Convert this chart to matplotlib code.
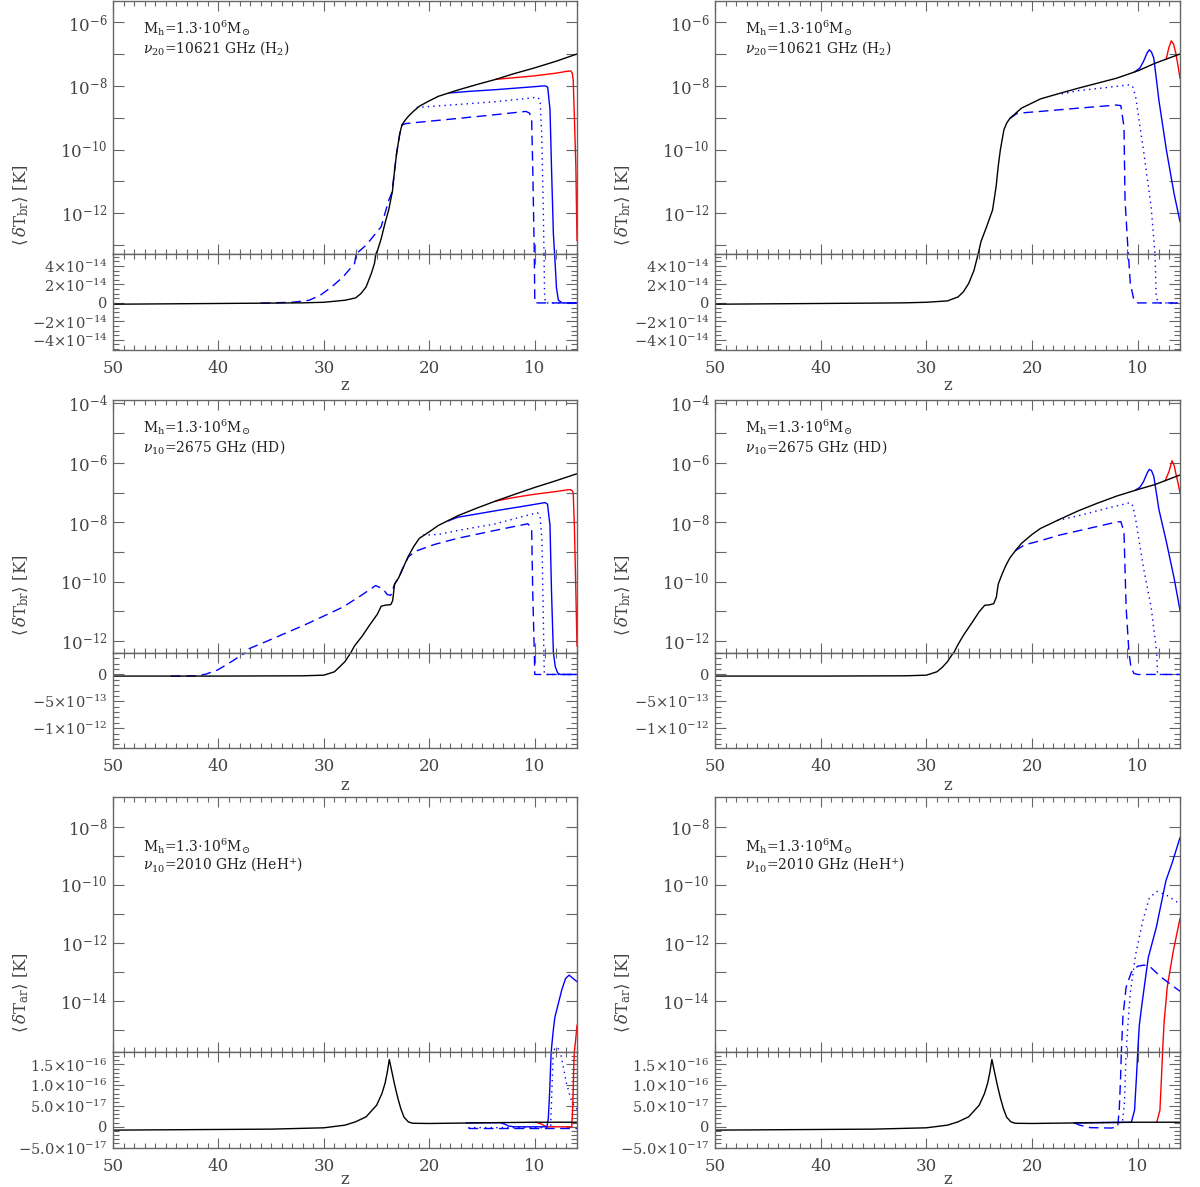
import numpy as np
import matplotlib.pyplot as plt
from matplotlib.ticker import FixedLocator, FixedFormatter, MultipleLocator, NullFormatter

plt.rcParams['font.family'] = ['DejaVu Serif']
plt.rcParams['mathtext.fontset'] = 'dejavuserif'

# ---------------------------------------------------------------
# curves: (z, <dT> in K)
# ---------------------------------------------------------------

# H2, left
h2_l_black = [(50, -1.4e-15), (45, -1.0e-15), (40, -6e-16), (35, -2e-16), (32, 1e-16),
              (30, 7e-16), (28, 2.9e-15), (27, 5.4e-15), (26.5, 1.0e-14), (26, 1.73e-14),
              (25.5, 3.2e-14), (25.2, 4.3e-14), (25.05, 5.5e-14), (24.9, 7.1e-14),
              (24.57, 1.6e-13), (24.2, 5e-13), (23.85, 1.3e-12), (23.5, 5e-12), (23.3, 2.2e-11),
              (23.1, 7.9e-11), (22.8, 3.2e-10), (22.6, 6.0e-10), (22.3, 8.3e-10), (22.0, 1.1e-9),
              (21.5, 1.6e-9), (20.95, 2.3e-9), (20.0, 3.4e-9), (19.15, 4.7e-9), (17.3, 7.4e-9),
              (15.5, 1.1e-8), (13.7, 1.6e-8), (12.0, 2.4e-8), (10.1, 3.6e-8), (8.0, 5.9e-8),
              (6.0, 1.0e-7)]
h2_l_red = [(13.7, 1.6e-8), (12.0, 1.8e-8), (10.1, 2.05e-8), (8.0, 2.5e-8), (7.0, 2.85e-8),
            (6.6, 2.95e-8), (6.45, 2.5e-8), (6.36, 1.55e-8), (6.25, 1.1e-9), (6.11, 3.2e-11),
            (6.0, 1.4e-13)]
h2_l_solid = [(18.1, 6.0e-9), (16.0, 6.8e-9), (13.7, 7.6e-9), (11.0, 8.9e-9), (9.1, 1.0e-8),
              (8.95, 9.8e-9), (8.78, 9.1e-9), (8.56, 1.8e-9), (8.42, 2.9e-11), (8.24, 2.3e-13),
              (8.13, 5.5e-14), (7.95, 1.7e-14), (7.77, 3e-15), (7.4, 0), (6.0, 0)]
h2_l_dotted = [(21.2, 2.1e-9), (19.5, 2.3e-9), (16.0, 2.8e-9), (13.7, 3.2e-9), (11.5, 3.8e-9),
               (9.75, 4.4e-9), (9.5, 3.6e-9), (9.35, 3.2e-10), (9.21, 2.6e-12), (9.13, 5.5e-14),
               (9.08, 1e-14), (9.0, 0), (6.0, 0)]
h2_l_dashed = [(36, -2e-16), (33, 7e-16), (31.4, 2.9e-15), (30.35, 8.3e-15), (29.3, 1.7e-14),
               (28.2, 2.8e-14), (27.1, 4.25e-14), (26.9, 5.5e-14), (26.0, 1.0e-13),
               (24.57, 3.8e-13), (23.85, 2.6e-12), (23.55, 4.5e-12), (23.3, 2.2e-11),
               (23.1, 7.9e-11), (22.8, 3.2e-10), (22.6, 5.8e-10), (22.3, 6.5e-10),
               (21.8, 6.8e-10), (17.3, 9.5e-10), (13.7, 1.25e-9), (10.84, 1.58e-9),
               (10.5, 1.4e-9), (10.3, 8.5e-10), (10.2, 3e-11), (10.05, 5.5e-14), (10.0, 0),
               (6.0, 0)]

# H2, right
h2_r_black = [(50, -1.4e-15), (45, -1.0e-15), (40, -6e-16), (35, -2e-16), (32, 1e-16),
              (30, 7e-16), (28, 2.2e-15), (27, 6.5e-15), (26.5, 1.2e-14), (26, 2.1e-14),
              (25.5, 3.5e-14), (25.1, 5.3e-14), (24.83, 1.3e-13), (24.3, 3.8e-13),
              (23.74, 1.26e-12), (23.4, 6.9e-12), (23.2, 3e-11), (23.0, 9.8e-11),
              (22.66, 4.2e-10), (22.4, 6.8e-10), (22.1, 9.5e-10), (21.0, 2.0e-9), (19.2, 3.9e-9),
              (17.4, 5.8e-9), (15.6, 8.5e-9), (12.0, 1.74e-8), (10.0, 2.95e-8), (8.37, 5.1e-8),
              (6.0, 1.0e-7)]
h2_r_red = [(7.3, 7.1e-8), (7.05, 1.6e-7), (6.82, 2.6e-7), (6.6, 2.0e-7), (6.4, 1.07e-7),
            (6.2, 4.5e-8), (6.0, 1.74e-8)]
h2_r_solid = [(10.3, 2.75e-8), (9.8, 3.6e-8), (9.46, 5.8e-8), (9.1, 1.1e-7), (8.9, 1.35e-7),
              (8.7, 1.15e-7), (8.48, 7.4e-8), (8.2, 1.3e-8), (8.0, 3.6e-9), (7.29, 9.8e-11),
              (6.57, 4.3e-12), (6.0, 5.5e-13)]
h2_r_dotted = [(17.2, 5.6e-9), (15.6, 7.1e-9), (13.0, 8.8e-9), (10.9, 1.07e-8), (10.5, 1.0e-8),
               (10.2, 4.6e-9), (9.46, 9.8e-11), (8.73, 1.6e-12), (8.37, 5.5e-14), (8.26, 1e-14),
               (8.1, 7e-16), (7.9, 0), (6.0, 0)]
h2_r_dashed = [(22.1, 9.5e-10), (21.4, 1.38e-9), (19.2, 1.58e-9), (15.6, 2.0e-9), (12.0, 2.5e-9),
               (11.6, 2.4e-9), (11.3, 5.2e-10), (11.2, 2.6e-12), (10.9, 5.5e-14),
               (10.7, 2.1e-14), (10.36, 2.9e-15), (10.0, 0), (6.0, 0)]

# HD, left
hd_l_black = [(50, -3e-14), (40, -3e-14), (32, -2.5e-14), (30, -1.3e-14), (29, 5e-14),
              (28.5, 1.45e-13), (28, 2.4e-13), (27.6, 3.6e-13), (27.45, 4.1e-13),
              (27.1, 6.9e-13), (26.37, 1.48e-12), (25.65, 3.55e-12), (24.93, 8.1e-12),
              (24.57, 1.5e-11), (24.2, 1.62e-11), (23.66, 1.7e-11), (23.48, 2.3e-11),
              (23.3, 8.3e-11), (22.9, 1.38e-10), (22.5, 2.9e-10), (22.0, 7.1e-10), (21.5, 1.5e-9),
              (20.95, 2.9e-9), (20.0, 4.8e-9), (19.15, 7.8e-9), (17.3, 1.66e-8), (15.5, 3.0e-8),
              (13.7, 5.2e-8), (12.0, 8.5e-8), (10.1, 1.45e-7), (8.0, 2.5e-7), (6.0, 4.3e-7)]
hd_l_red = [(13.7, 5.2e-8), (12.0, 6.8e-8), (10.1, 8.7e-8), (8.0, 1.08e-7), (7.0, 1.22e-7),
            (6.65, 1.26e-7), (6.45, 1.15e-7), (6.36, 1.0e-7), (6.25, 7.9e-9), (6.11, 5e-11),
            (6.0, 6.9e-13)]
hd_l_solid = [(18.2, 1.12e-8), (17.3, 1.48e-8), (15.5, 1.9e-8), (13.7, 2.45e-8), (11.0, 3.5e-8),
              (9.03, 4.6e-8), (8.8, 4.1e-8), (8.56, 7.8e-9), (8.42, 5e-11), (8.24, 4.1e-13),
              (8.06, 1.45e-13), (7.84, 3e-14), (7.6, 0), (6.0, 0)]
hd_l_dotted = [(20.6, 3.7e-9), (19.15, 3.9e-9), (17.3, 5.3e-9), (13.7, 8.9e-9), (11.5, 1.45e-8),
               (9.75, 2.1e-8), (9.5, 1.66e-8), (9.32, 2.2e-9), (9.21, 1.4e-11), (9.14, 4.1e-13),
               (9.1, 0), (6.0, 0)]
hd_l_dashed = [(44.5, -3e-14), (42.0, -2.5e-14), (41.2, 6e-15), (40.1, 8.2e-14), (39.0, 2.1e-13),
               (37.9, 3.5e-13), (37.4, 4.1e-13), (37.2, 5.4e-13), (35.4, 1e-12),
               (31.8, 3.55e-12), (28.2, 1.4e-11), (26.5, 3.4e-11), (25.1, 7.4e-11),
               (24.4, 5.8e-11), (24.0, 3.7e-11), (23.66, 3.5e-11), (23.4, 6.5e-11),
               (23.3, 8.3e-11), (22.9, 1.38e-10), (22.5, 2.9e-10), (22.0, 6.8e-10),
               (21.35, 1.05e-9), (19.5, 1.8e-9), (17.3, 2.9e-9), (13.7, 5.4e-9), (10.66, 8.9e-9),
               (10.3, 6.2e-9), (10.2, 5e-11), (10.05, 4.1e-13), (10.0, 0), (6.0, 0)]

# HD, right
hd_r_black = [(50, -3e-14), (40, -3e-14), (32, -2.5e-14), (30, -1.3e-14), (29, 5e-14),
              (28.5, 1.32e-13), (28, 2.4e-13), (27.6, 3.6e-13), (27.4, 4.1e-13),
              (27.0, 7.8e-13), (26.45, 1.66e-12), (25.7, 4.1e-12), (25.0, 9.8e-12),
              (24.47, 1.62e-11), (24.1, 1.65e-11), (23.63, 1.82e-11), (23.38, 3.0e-11),
              (23.2, 8.3e-11), (22.84, 1.78e-10), (22.5, 3.4e-10), (22.1, 6.3e-10),
              (21.5, 1.2e-9), (21.0, 1.95e-9), (20.0, 3.9e-9), (19.2, 6.2e-9), (17.4, 1.25e-8),
              (15.6, 2.45e-8), (13.8, 4.4e-8), (12.0, 7.6e-8), (10.0, 1.26e-7), (8.37, 1.86e-7),
              (6.0, 3.9e-7)]
hd_r_red = [(7.4, 2.5e-7), (7.05, 5e-7), (6.75, 1.17e-6), (6.55, 8e-7), (6.4, 4.5e-7),
            (6.2, 2.2e-7), (6.0, 9.8e-8)]
hd_r_solid = [(10.2, 1.22e-7), (9.8, 1.5e-7), (9.46, 2.3e-7), (9.1, 4.6e-7), (8.9, 6.0e-7),
              (8.7, 5.5e-7), (8.48, 3.5e-7), (8.2, 8e-8), (8.0, 2.75e-8), (7.29, 2.2e-9),
              (6.57, 1.38e-10), (6.0, 1.1e-11)]
hd_r_dotted = [(17.6, 1.15e-8), (15.6, 1.66e-8), (13.0, 2.9e-8), (10.7, 4.6e-8), (10.45, 3.5e-8),
               (10.2, 1.29e-8), (9.46, 3e-10), (8.73, 1.4e-11), (8.2, 4.1e-13), (8.13, 0),
               (6.0, 0)]
hd_r_dashed = [(21.6, 1.1e-9), (20.7, 1.74e-9), (19.2, 2.4e-9), (17.4, 3.7e-9), (15.0, 5.8e-9),
               (12.0, 1.02e-8), (11.6, 1.05e-8), (11.3, 4.8e-9), (11.1, 1.4e-11),
               (10.83, 4.1e-13), (10.65, 1.45e-13), (10.36, 2e-14), (10.0, 0), (6.0, 0)]

# HeH+, black curve (same in both columns)
hehp_black = [(50, -8e-18), (40, -6.4e-18), (35, -5.6e-18), (30, -2.4e-18), (28, 4e-18),
              (27, 1.2e-17), (26, 2.4e-17), (25, 5.2e-17), (24.5, 8e-17), (24.2, 1.05e-16),
              (24.0, 1.3e-16), (23.8, 1.62e-16), (23.6, 1.38e-16), (23.3, 1.02e-16),
              (23.0, 7e-17), (22.7, 4.3e-17), (22.4, 2.3e-17), (22.0, 1.2e-17), (21.6, 8.5e-18),
              (20.0, 8e-18), (15.0, 9.6e-18), (10.0, 1.1e-17), (6.0, 1.1e-17)]

# HeH+, left
hehp_l_red = [(9.9, 1.1e-17), (9.4, 7e-18), (8.9, 0), (6.5, 0), (6.4, 5e-17), (6.3, 1.5e-16),
              (6.25, 1.8e-16), (6.12, 5e-16), (6.0, 1.5e-15)]
hehp_l_solid = [(16.5, 9.4e-18), (13.3, 1.0e-17), (12.9, 7e-18), (12.5, 2e-18), (12.0, 0),
                (8.85, 0), (8.72, 2e-17), (8.6, 8e-17), (8.45, 1.8e-16), (8.25, 1e-15),
                (8.1, 2.8e-15), (7.85, 6.4e-15), (7.45, 2.4e-14), (7.09, 6.0e-14),
                (6.75, 7.9e-14), (6.4, 6.2e-14), (6.0, 4.7e-14)]
hehp_l_dotted = [(16.3, -2e-18), (9.0, -2e-18), (8.5, 0), (8.38, 9e-17), (8.25, 1.8e-16),
                 (8.05, 2.6e-16), (7.85, 2.5e-16), (7.5, 1.7e-16), (7.0, 1.05e-16),
                 (6.5, 6e-17), (6.0, 4.2e-17)]
hehp_l_dashed = [(16.3, -2e-18), (6.0, -2e-18)]

# HeH+, right
hehp_r_red = [(8.2, 1.1e-17), (7.9, 4e-17), (7.75, 1.2e-16), (7.65, 1.8e-16), (7.5, 2e-15),
              (7.2, 3.2e-14), (6.65, 5e-13), (6.0, 7e-12)]
hehp_r_solid = [(16.0, 9.6e-18), (10.6, 1.1e-17), (10.3, 4e-17), (10.12, 1.2e-16),
                (10.0, 1.8e-16), (9.85, 1.5e-15), (9.6, 8e-15), (9.0, 3.2e-13), (8.24, 3.5e-12),
                (7.33, 1.4e-10), (6.75, 5.6e-10), (6.0, 4.2e-9)]
hehp_r_dotted = [(16.0, 9.6e-18), (11.45, 1.05e-17), (11.25, 6e-17), (11.1, 1.8e-16),
                 (10.95, 1.2e-15), (10.7, 2e-14), (10.2, 4e-13), (9.5, 6.3e-12), (8.9, 3.5e-11),
                 (8.2, 6e-11), (7.3, 4.5e-11), (6.0, 2.2e-11)]
hehp_r_dashed = [(16.0, 9.6e-18), (15.5, 4e-18), (14.5, -2e-18), (12.5, -3e-18), (11.9, 0),
                 (11.75, 4e-17), (11.62, 1.2e-16), (11.55, 1.8e-16), (11.4, 3e-15),
                 (11.1, 3e-14), (10.6, 1e-13), (10.0, 1.6e-13), (9.4, 1.75e-13),
                 (8.8, 1.5e-13), (7.8, 6.8e-14), (6.0, 2.2e-14)]

# ---------------------------------------------------------------
# per-row axis settings
# ---------------------------------------------------------------
row_log_lim = [(5.3e-14, 4.6e-6), (4.0e-13, 1.3e-4), (1.8e-16, 1.05e-7)]
row_lin_lim = [(-5.1e-14, 5.3e-14), (-1.37e-12, 4.0e-13), (-5.1e-17, 1.8e-16)]
row_log_major = [[-12, -10, -8, -6], [-12, -10, -8, -6, -4], [-14, -12, -10, -8]]
row_log_minor = [[-13, -11, -9, -7], [-11, -9, -7, -5], [-15, -13, -11, -9]]
row_lin_ticks = [[-4e-14, -2e-14, 0, 2e-14, 4e-14], [-1e-12, -5e-13, 0],
                 [-5e-17, 0, 5e-17, 1e-16, 1.5e-16]]
row_lin_labels = [[r'$-4{\times}10^{-14}$', r'$-2{\times}10^{-14}$', '0',
                   r'$2{\times}10^{-14}$', r'$4{\times}10^{-14}$'],
                  [r'$-1{\times}10^{-12}$', r'$-5{\times}10^{-13}$', '0'],
                  [r'$-5.0{\times}10^{-17}$', '0', r'$5.0{\times}10^{-17}$',
                   r'$1.0{\times}10^{-16}$', r'$1.5{\times}10^{-16}$']]
row_lin_minor = [5e-15, 1e-13, 1e-17]
row_ylabel = [r'$\langle\,\delta\mathrm{T}_{\mathrm{br}}\rangle$ [K]',
              r'$\langle\,\delta\mathrm{T}_{\mathrm{br}}\rangle$ [K]',
              r'$\langle\,\delta\mathrm{T}_{\mathrm{ar}}\rangle$ [K]']
row_line2 = [r'$\nu_{20}$=10621 GHz (H$_2$)', r'$\nu_{10}$=2675 GHz (HD)',
             r'$\nu_{10}$=2010 GHz (HeH$^{+}$)']
line1 = r'M$_{\rm h}$=1.3$\cdot$10$^{6}$M$_{\odot}$'

panel_curves = [
    [(h2_l_red, h2_l_solid, h2_l_dotted, h2_l_dashed, h2_l_black),
     (h2_r_red, h2_r_solid, h2_r_dotted, h2_r_dashed, h2_r_black)],
    [(hd_l_red, hd_l_solid, hd_l_dotted, hd_l_dashed, hd_l_black),
     (hd_r_red, hd_r_solid, hd_r_dotted, hd_r_dashed, hd_r_black)],
    [(hehp_l_red, hehp_l_solid, hehp_l_dotted, hehp_l_dashed, hehp_black),
     (hehp_r_red, hehp_r_solid, hehp_r_dotted, hehp_r_dashed, hehp_black)],
]

# layout in pixels
W, H = 1200, 1187
cols = [(113, 577), (715, 1180)]
rows = [(1, 254, 350), (400, 653, 748), (797, 1052, 1148)]
text_dy = [(27, 47), (27, 47), (49, 68)]
ylabel_y = [205, 595, 993]
zlabel_y = [386, 786, 1179]

fig = plt.figure(figsize=(W / 100, H / 100), dpi=100)

frame_col = '#666666'
label_col = '#444444'


def px_axes(x0, x1, ytop, ybot):
    return fig.add_axes([x0 / W, 1 - ybot / H, (x1 - x0) / W, (ybot - ytop) / H])


def draw(ax_log, ax_lin, pts, color, dashes=None):
    z = np.array([p[0] for p in pts])
    t = np.array([p[1] for p in pts])
    kw = dict(color=color, lw=1.0)
    if dashes is not None:
        kw['dashes'] = dashes
    ax_log.plot(z, np.where(t > 0, t, np.nan), **kw)
    ax_lin.plot(z, t, **kw)


def common_ticks(ax):
    ax.set_xlim(50, 6)
    ax.xaxis.set_major_locator(MultipleLocator(10))
    ax.xaxis.set_minor_locator(MultipleLocator(1))
    ax.tick_params(which='both', direction='in', top=True, right=True, bottom=True, left=True,
                   color=frame_col, labelcolor=label_col, labelsize=12, width=0.8)
    ax.tick_params(axis='x', which='major', length=7, pad=7)
    ax.tick_params(axis='x', which='minor', length=3.5)
    ax.tick_params(axis='y', which='major', length=8, pad=4)
    for s in ax.spines.values():
        s.set_color(frame_col)
        s.set_linewidth(1.0)


for r in range(3):
    ytop, ysplit, ybot = rows[r]
    for c in range(2):
        x0, x1 = cols[c]
        ax_log = px_axes(x0, x1, ytop, ysplit)
        ax_lin = px_axes(x0, x1, ysplit, ybot)

        red, solid, dotted, dashed, black = panel_curves[r][c]
        draw(ax_log, ax_lin, red, '#ff0000')
        draw(ax_log, ax_lin, solid, '#0000ff')
        draw(ax_log, ax_lin, dotted, '#0000ff', dashes=(1.0, 3.0))
        draw(ax_log, ax_lin, dashed, '#0000ff', dashes=(7.0, 4.0))
        draw(ax_log, ax_lin, black, 'black')

        # log part
        ax_log.set_yscale('log')
        ax_log.set_ylim(*row_log_lim[r])
        common_ticks(ax_log)
        ax_log.yaxis.set_major_locator(FixedLocator([10.0 ** e for e in row_log_major[r]]))
        ax_log.yaxis.set_major_formatter(
            FixedFormatter([r'$10^{%d}$' % e for e in row_log_major[r]]))
        ax_log.yaxis.set_minor_locator(FixedLocator([10.0 ** e for e in row_log_minor[r]]))
        ax_log.yaxis.set_minor_formatter(NullFormatter())
        ax_log.tick_params(axis='y', which='minor', length=8)
        ax_log.tick_params(labelbottom=False)

        # linear part
        ax_lin.set_ylim(*row_lin_lim[r])
        common_ticks(ax_lin)
        ax_lin.yaxis.set_major_locator(FixedLocator(row_lin_ticks[r]))
        ax_lin.yaxis.set_major_formatter(FixedFormatter(row_lin_labels[r]))
        ax_lin.yaxis.set_minor_locator(MultipleLocator(row_lin_minor[r]))
        ax_lin.yaxis.set_minor_formatter(NullFormatter())
        ax_lin.tick_params(axis='y', which='minor', length=4)
        ax_lin.tick_params(axis='y', which='major', labelsize=10.5)

        # x label
        fig.text((x0 + x1) / 2 / W, 1 - zlabel_y[r] / H, 'z', fontsize=12,
                 color=label_col, va='center', ha='center')

        # annotation
        fig.text((x0 + 30) / W, 1 - (ytop + text_dy[r][0]) / H, line1,
                 fontsize=10, color='#222222', va='center', ha='left')
        fig.text((x0 + 30) / W, 1 - (ytop + text_dy[r][1]) / H, row_line2[r],
                 fontsize=10, color='#222222', va='center', ha='left')

        # y label
        fig.text((x0 - 92) / W, 1 - ylabel_y[r] / H, row_ylabel[r], rotation=90,
                 fontsize=12, color=label_col, va='center', ha='center')

fig.savefig('out.png', dpi=100)
